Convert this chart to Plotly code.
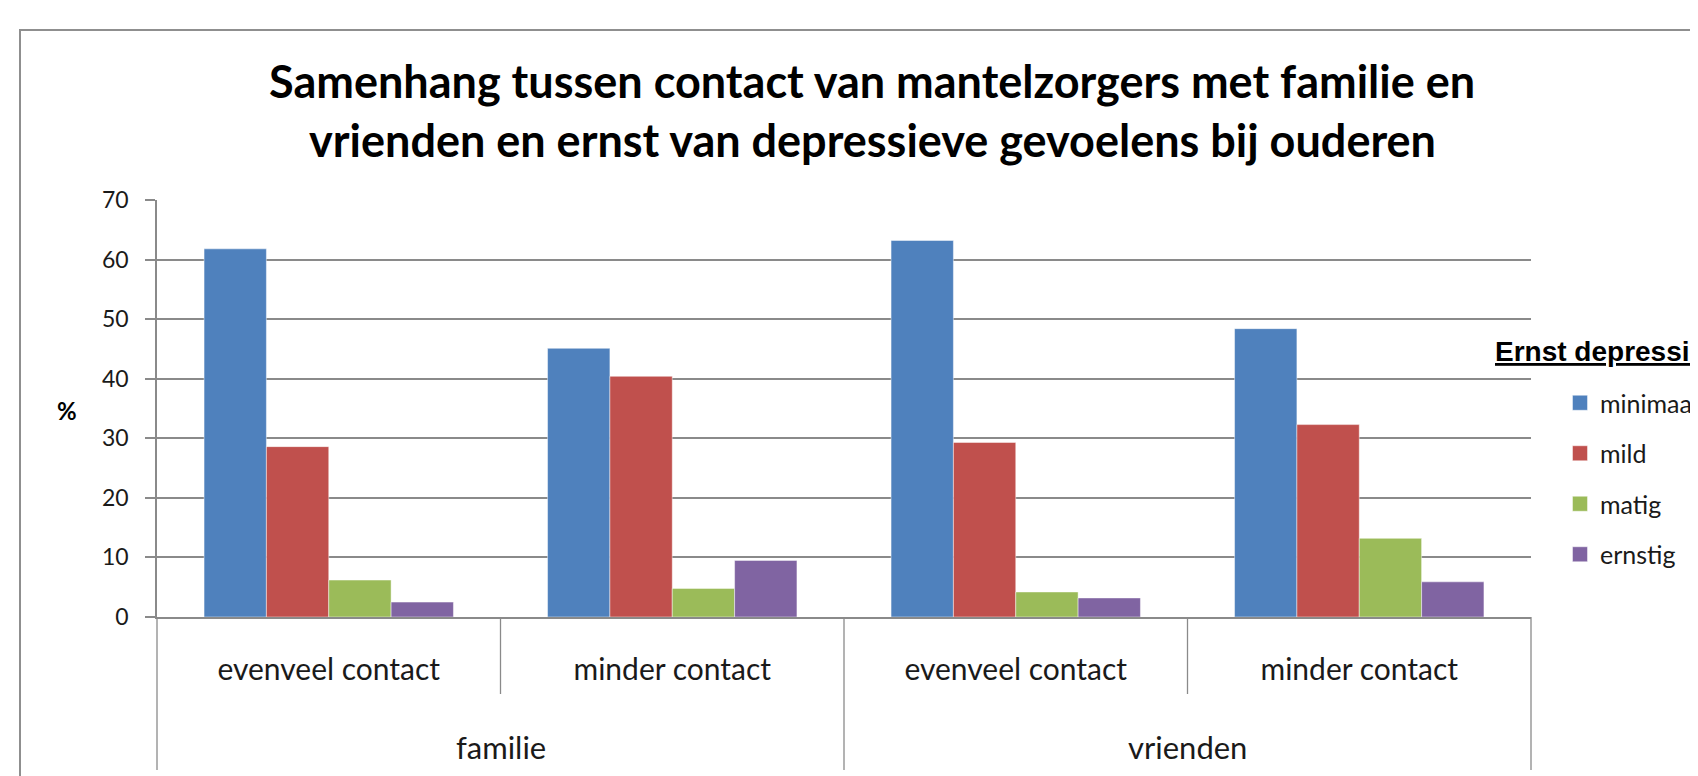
import plotly.graph_objects as go

# ---- data ----
subcategories = ["evenveel contact", "minder contact", "evenveel contact", "minder contact"]
groups = ["familie", "vrienden"]
series_names = ["minimaal", "mild", "matig", "ernstig"]
minimaal = [61.8, 45.1, 63.2, 48.4]
mild = [28.6, 40.4, 29.3, 32.3]
matig = [6.2, 4.8, 4.2, 13.2]
ernstig = [2.5, 9.5, 3.2, 5.9]
y_ticks = [0, 10, 20, 30, 40, 50, 60, 70]
title_lines = ["Samenhang tussen contact van mantelzorgers met familie en",
               "vrienden en ernst van depressieve gevoelens bij ouderen"]
legend_title = "Ernst depressieve gevoelens"
y_title = "%"

colors = ["#4F81BD", "#C0504D", "#9BBB59", "#8064A2"]
values = [minimaal, mild, matig, ernstig]

OFF = 8  # page body margin
W, H = 1698 - OFF, 776 - OFF
# plot area in page pixels
PL, PR, PT, PB = 157, 1531, 200, 617


def px(xp):
    return (xp - PL) / (PR - PL)


def py(yp):
    return (PB - yp) / (PB - PT)


FONT = "Lato"
GRID = "#8a8a8a"

fig = go.Figure()
xs = list(range(len(subcategories)))
for name, vals, col in zip(series_names, values, colors):
    fig.add_trace(go.Bar(x=xs, y=vals, name=name, legendgroup=name, showlegend=False,
                         marker=dict(color=col, line=dict(width=1, color="rgba(255,255,255,0.45)"))))
for name, col in zip(series_names, colors):
    fig.add_trace(go.Scatter(x=[None], y=[None], mode="markers", name=name, legendgroup=name,
                             marker=dict(symbol="square", size=15, color=col,
                                         line=dict(width=1, color="rgba(255,255,255,0.45)")),
                             hoverinfo="skip"))

shapes = []
shapes.append(dict(type="rect", xref="paper", yref="paper",
                   x0=px(20), x1=px(1760), y0=py(840), y1=py(30),
                   line=dict(color="#8f8f8f", width=2), fillcolor="rgba(0,0,0,0)", layer="below"))
for xv in [0.5, 2.5]:
    shapes.append(dict(type="line", xref="x", yref="paper", x0=xv, x1=xv,
                       y0=0, y1=py(694), line=dict(color=GRID, width=1.3)))
for xv in [0.0, 1.0]:
    shapes.append(dict(type="line", xref="paper", yref="paper", x0=xv, x1=xv,
                       y0=0, y1=py(770), line=dict(color=GRID, width=1.3)))
shapes.append(dict(type="line", xref="x", yref="paper", x0=1.5, x1=1.5,
                   y0=0, y1=py(770), line=dict(color=GRID, width=1.3)))

annotations = []
for line, yc in zip(title_lines, [81, 140]):
    annotations.append(dict(text="<b>%s</b>" % line, xref="paper", yref="paper",
                            x=px(872), y=py(yc), showarrow=False, xanchor="center", yanchor="middle",
                            font=dict(family=FONT, size=45, color="#000")))
annotations.append(dict(text="<b>%s</b>" % y_title, xref="paper", yref="paper",
                        x=px(67), y=py(410), showarrow=False, xanchor="center", yanchor="middle",
                        font=dict(family=FONT, size=24, color="#000")))
for i, g in enumerate(groups):
    annotations.append(dict(text=g, xref="x", yref="paper", x=2 * i + 0.5, y=py(747),
                            showarrow=False, xanchor="center", yanchor="middle",
                            font=dict(family=FONT, size=31, color="#1a1a1a")))
annotations.append(dict(text="<b><u>%s</u></b>" % legend_title, xref="paper", yref="paper",
                        x=px(1493), y=py(351), showarrow=False, xanchor="left", yanchor="middle",
                        font=dict(family="Liberation Sans", size=28, color="#000")))

fig.update_layout(
    width=W, height=H,
    margin=dict(l=PL - OFF, r=W - (PR - OFF), t=PT - OFF, b=H - (PB - OFF), autoexpand=False),
    paper_bgcolor="white", plot_bgcolor="white",
    barmode="group", bargap=0.274, bargroupgap=0,
    showlegend=True,
    legend=dict(x=px(1560), y=py(380), xanchor="left", yanchor="top",
                font=dict(family=FONT, size=25, color="#1a1a1a"),
                tracegroupgap=15, bgcolor="rgba(0,0,0,0)", traceorder="grouped"),
    shapes=shapes, annotations=annotations,
    xaxis=dict(range=[-0.5, 3.5], tickmode="array", tickvals=xs, ticktext=subcategories,
               ticks="", showgrid=False, zeroline=False, showline=True,
               linecolor=GRID, linewidth=1.5, ticklabelstandoff=25,
               tickfont=dict(family=FONT, size=30, color="#1a1a1a"), fixedrange=True),
    yaxis=dict(range=[0, 70], tickmode="array", tickvals=y_ticks, ticks="outside",
               ticklen=10, tickcolor=GRID, tickwidth=1.5, showgrid=True, gridcolor=GRID,
               gridwidth=1.5, zeroline=False, showline=True, linecolor=GRID, linewidth=1.5,
               ticklabelstandoff=12, tickfont=dict(family=FONT, size=23, color="#1a1a1a"),
               fixedrange=True),
)

fig.write_html("out.html")
